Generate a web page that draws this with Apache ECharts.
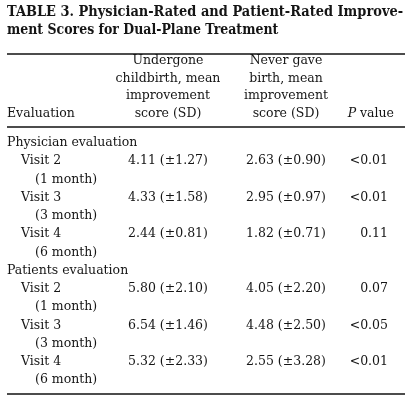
<!DOCTYPE html>
<html><head><meta charset="utf-8">
<script src="https://cdn.jsdelivr.net/npm/echarts@6/dist/echarts.min.js"></script>
<style>html,body{margin:0;padding:0;background:#fff}#c{width:412px;height:408px}</style>
</head><body><div id="c"></div>
<script>
const titleLines = ['TABLE 3. Physician-Rated and Patient-Rated Improve-', 'ment Scores for Dual-Plane Treatment'];
const headerCol1 = ['Undergone', 'childbirth, mean', 'improvement', 'score (SD)'];
const headerCol2 = ['Never gave', 'birth, mean', 'improvement', 'score (SD)'];
const groups = ['Physician evaluation', 'Patients evaluation'];
const visits = ['Visit 2', 'Visit 3', 'Visit 4'];
const months = ['(1 month)', '(3 month)', '(6 month)'];
const childbirthMean = [4.11, 4.33, 2.44, 5.80, 6.54, 5.32];
const childbirthSD = [1.27, 1.58, 0.81, 2.10, 1.46, 2.33];
const neverMean = [2.63, 2.95, 1.82, 4.05, 4.48, 2.55];
const neverSD = [0.90, 0.97, 0.71, 2.20, 2.50, 3.28];
const pValues = ['<0.01', '<0.01', '0.11', '0.07', '<0.05', '<0.01'];

const FONT = 'DejaVu Serif';
const FS = 12.5;
const INK = '#151515';
const X_LABEL = 7, X_VISIT = 21, X_MONTH = 35, X_C1 = 168, X_C2 = 286, X_P = 388;

const cells = [];
let row = 0;
function cell(x, y, text, align) {
  cells.push({ name: text, value: [x, y], label: { align: align } });
}
groups.forEach((g, gi) => {
  cell(X_LABEL, row, g, 'left'); row++;
  visits.forEach((v, vi) => {
    const k = gi * visits.length + vi;
    cell(X_VISIT, row, v, 'left');
    cell(X_C1, row, childbirthMean[k].toFixed(2) + ' (\u00b1' + childbirthSD[k].toFixed(2) + ')', 'center');
    cell(X_C2, row, neverMean[k].toFixed(2) + ' (\u00b1' + neverSD[k].toFixed(2) + ')', 'center');
    cell(X_P, row, pValues[k], 'right');
    row++;
    cell(X_MONTH, row, months[vi], 'left');
    row++;
  });
});

const HY = [61, 79, 96, 114];
const TITLE_SCALE = [0.895, 0.865];
const graphic = [];
titleLines.forEach((t, i) => graphic.push({
  type: 'text', x: 7, y: 5 + i * 18, scaleX: TITLE_SCALE[i],
  style: { text: t, font: 'bold 14.5px "' + FONT + '"', fill: INK }
}));
headerCol1.forEach((t, i) => graphic.push({
  type: 'text', x: X_C1, y: HY[i],
  style: { text: t, font: FS + 'px "' + FONT + '"', fill: INK, textAlign: 'center', textVerticalAlign: 'middle' }
}));
headerCol2.forEach((t, i) => graphic.push({
  type: 'text', x: X_C2, y: HY[i],
  style: { text: t, font: FS + 'px "' + FONT + '"', fill: INK, textAlign: 'center', textVerticalAlign: 'middle' }
}));
graphic.push({ type: 'text', x: X_LABEL, y: HY[3],
  style: { text: 'Evaluation', font: FS + 'px "' + FONT + '"', fill: INK, textAlign: 'left', textVerticalAlign: 'middle' } });
graphic.push({ type: 'text', x: 394, y: HY[3],
  style: { text: '{i|P} value', textAlign: 'right', textVerticalAlign: 'middle',
    rich: { i: { fontFamily: FONT, fontSize: FS, fontStyle: 'italic', fill: INK } },
    font: FS + 'px "' + FONT + '"', fill: INK } });
[54, 127, 394].forEach(y => graphic.push({
  type: 'line', shape: { x1: 7, y1: y, x2: 405, y2: y }, style: { stroke: '#111', lineWidth: 1.4 }
}));

const chart = echarts.init(document.getElementById('c'), null, { renderer: 'canvas' });
chart.setOption({
  backgroundColor: '#fff',
  animation: false,
  grid: { left: 0, right: 0, top: 143, bottom: 28 },
  xAxis: { type: 'value', min: 0, max: 412, show: false },
  yAxis: { type: 'value', min: 0, max: 13, inverse: true, show: false },
  graphic: graphic,
  series: [{
    type: 'scatter', symbolSize: 0, clip: false, silent: true,
    itemStyle: { opacity: 1 },
    emphasis: { disabled: true },
    data: cells,
    label: { show: true, position: 'inside', formatter: '{b}', color: INK, opacity: 1,
      fontFamily: FONT, fontSize: FS, verticalAlign: 'middle', textBorderWidth: 0 }
  }]
});
</script></body></html>
